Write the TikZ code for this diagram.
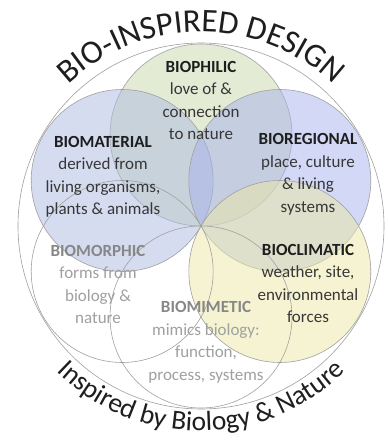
\documentclass[tikz,border=0pt]{standalone}
\usepackage{fontspec}
\setmainfont{Carlito}
\definecolor{cgreen}{RGB}{200,217,172}
\definecolor{cblueA}{RGB}{172,186,226}
\definecolor{cblueB}{RGB}{166,178,236}
\definecolor{cyellow}{RGB}{236,232,165}
\definecolor{ringgray}{RGB}{160,160,160}
\definecolor{hdark}{RGB}{30,30,30}
\definecolor{bdark}{RGB}{55,55,55}
\definecolor{hlight}{RGB}{135,135,135}
\definecolor{blight}{RGB}{160,160,160}
\newsavebox\arcbox
\newdimen\arcposdim
\newdimen\arctotdim
% measure: #1 font, #2 list of characters, #3 name prefix
\newcommand\arcmeasure[3]{%
  \global\arctotdim=0pt
  \foreach \ch [count=\k] in {#2}{%
    \sbox\arcbox{#1\ch}%
    \expandafter\xdef\csname arcw#3\k\endcsname{\the\wd\arcbox}%
    \global\advance\arctotdim by \wd\arcbox}%
  \expandafter\xdef\csname arctot#3\endcsname{\the\arctotdim}%
}
% place: #1 radius (pt number), #2 sign (1 top, (-1) bottom), #3 font, #4 list, #5 prefix
\newcommand\arcplace[5]{%
  \global\arcposdim=0pt
  \foreach \ch [count=\k] in {#4}{%
    \edef\arcw{\csname arcw#5\k\endcsname}%
    \edef\arctot{\csname arctot#5\endcsname}%
    \pgfmathsetmacro\arcang{180-90*#2+#2*(\arctot/2-\the\arcposdim-\arcw/2)/#1*57.29578}%
    \pgfmathsetmacro\arcrot{\arcang-90*#2}%
    \node[inner sep=0pt, anchor=base, rotate=\arcrot, text=hdark] (#5\k) at ([shift={(\arcang:#1pt)}]C) {#3\ch};%
    \global\advance\arcposdim by \arcw\relax
  }%
}
\newcommand\topfont{\fontsize{33}{33}\selectfont}
\newcommand\botfont{\fontsize{27.5}{27.5}\selectfont}
\begin{document}
\arcmeasure{\topfont}{B,I,O,-,I,N,S,P,I,R,E,D,~,D,E,S,I,G,N}{top}%
\arcmeasure{\botfont}{I,n,s,p,i,r,e,d,~,b,y,~,B,i,o,l,o,g,y,~,\&,~,N,a,t,u,r,e}{bot}%
\begin{tikzpicture}[x=1pt,y=1pt,
  venn/.style={draw=ringgray, line width=0.6pt},
  petal/.style={venn, fill opacity=0.5},
  lbl/.style={align=center, inner sep=0pt, font=\fontsize{17}{22.5}\selectfont, text=bdark},
  lbllight/.style={lbl, text=blight}]
\useasboundingbox (0,0) rectangle (388,440);
\fill[white] (0,0) rectangle (388,440);
\coordinate (C) at (201,214);
% outer ring
\draw[venn] (C) circle[radius=183pt];
% six circles
\path[petal, fill=cgreen]  (C) ++(90:91pt)   circle[radius=91pt];
\path[petal, fill=cblueA]  (C) ++(150:91pt)  circle[radius=91pt];
\path[petal, fill=cblueB]  (C) ++(30:91pt)   circle[radius=91pt];
\path[petal, fill=cyellow] (C) ++(-30:91pt)  circle[radius=91pt];
\path[venn]                (C) ++(-90:91pt)  circle[radius=91pt];
\path[venn]                (C) ++(-150:91pt) circle[radius=91pt];
% labels
\node[lbl] (biophilic) at (201,339.5) {{\color{hdark}\textbf{BIOPHILIC}}\\love of \&\\connection\\to nature};
\node[lbl] (biomaterial) at (103,263) {{\color{hdark}\textbf{BIOMATERIAL}}\\derived from\\living organisms,\\plants \& animals};
\node[lbl] (bioregional) at (308,265.5) {{\color{hdark}\textbf{BIOREGIONAL}}\\place, culture\\\& living\\systems};
\node[lbl] (bioclimatic) at (308,156.5) {{\color{hdark}\textbf{BIOCLIMATIC}}\\weather, site,\\environmental\\forces};
\node[lbllight] (biomorphic) at (98,155.5) {{\color{hlight}\textbf{BIOMORPHIC}}\\forms from\\biology \&\\nature};
\node[lbllight] (biomimetic) at (206,97.5) {{\color{hlight}\textbf{BIOMIMETIC}}\\mimics biology:\\function,\\process, systems};
% curved titles
\arcplace{194}{1}{\topfont}{B,I,O,-,I,N,S,P,I,R,E,D,~,D,E,S,I,G,N}{top}
\arcplace{205}{(-1)}{\botfont}{I,n,s,p,i,r,e,d,~,b,y,~,B,i,o,l,o,g,y,~,\&,~,N,a,t,u,r,e}{bot}
\end{tikzpicture}
\end{document}
